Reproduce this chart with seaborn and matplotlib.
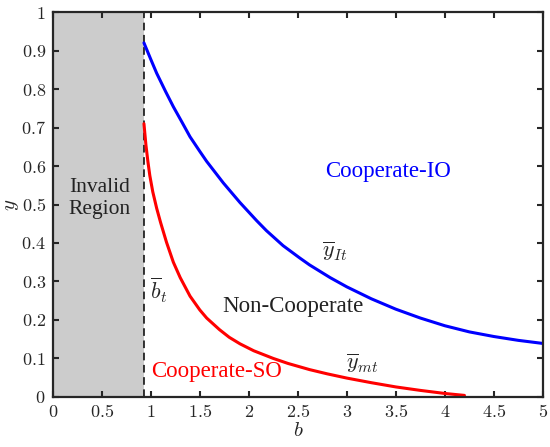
import pandas as pd
import seaborn as sns
import matplotlib.pyplot as plt

# values
b_t = 0.93

b_io = [0.93, 1.0, 1.06, 1.15, 1.23, 1.32, 1.4, 1.5, 1.57, 1.74, 1.91, 2.08, 2.18, 2.35,
        2.52, 2.62, 2.83, 3.0, 3.25, 3.5, 3.75, 4.0, 4.25, 4.5, 4.75, 5.0]
y_io = [0.92, 0.877, 0.841, 0.794, 0.754, 0.713, 0.676, 0.638, 0.612, 0.556, 0.505, 0.458, 0.432, 0.393,
        0.361, 0.343, 0.31, 0.286, 0.255, 0.228, 0.205, 0.185, 0.169, 0.157, 0.147, 0.139]

b_so = [0.93, 0.95, 0.97, 0.99, 1.02, 1.06, 1.1, 1.16, 1.23, 1.3, 1.4, 1.5, 1.57, 1.7,
        1.8, 1.91, 2.05, 2.25, 2.4, 2.62, 2.8, 3.0, 3.25, 3.5, 3.75, 4.0, 4.2]
y_so = [0.71, 0.655, 0.612, 0.575, 0.533, 0.49, 0.453, 0.402, 0.35, 0.31, 0.262, 0.226, 0.205, 0.175,
        0.155, 0.138, 0.12, 0.1, 0.087, 0.071, 0.06, 0.049, 0.037, 0.026, 0.017, 0.009, 0.004]

x_ticks = [0, 0.5, 1, 1.5, 2, 2.5, 3, 3.5, 4, 4.5, 5]
y_ticks = [0, 0.1, 0.2, 0.3, 0.4, 0.5, 0.6, 0.7, 0.8, 0.9, 1]

df_io = pd.DataFrame({'b': b_io, 'y': y_io})
df_so = pd.DataFrame({'b': b_so, 'y': y_so})

sns.set_style('ticks')
plt.rcParams['font.family'] = ['Liberation Serif', 'DejaVu Serif']
plt.rcParams['mathtext.fontset'] = 'cm'

fig = plt.figure(figsize=(5.5, 4.47), dpi=100)
ax = fig.add_axes([0.096, 0.112, 0.891, 0.861])

ax.axvspan(0, b_t, color='#cccccc', lw=0, zorder=0)
ax.axvline(b_t, color='black', ls=(0, (5, 3)), lw=1.1, zorder=1)

sns.lineplot(data=df_io, x='b', y='y', color='#0000ff', lw=2.2, ax=ax)
sns.lineplot(data=df_so, x='b', y='y', color='#ff0000', lw=2.2, ax=ax)

ax.set_xlim(0, 5)
ax.set_ylim(0, 1)
ax.set_xticks(x_ticks)
ax.set_yticks(y_ticks)
ax.set_xticklabels(['$%g$' % v for v in x_ticks])
ax.set_yticklabels(['$%g$' % v for v in y_ticks])
ax.tick_params(direction='in', top=True, right=True, length=4, width=1.5,
               labelsize=13, color='#262626', pad=5)
for s in ax.spines.values():
    s.set_linewidth(1.6)
    s.set_color('#262626')

ax.set_xlabel('$b$', fontsize=15, labelpad=1)
ax.set_ylabel('$y$', fontsize=15, labelpad=0)

ax.text(0.48, 0.515, 'Invalid\nRegion', ha='center', va='center', fontsize=15.5,
        color='#222222', linespacing=1.25)
ax.text(3.42, 0.585, 'Cooperate-IO', ha='center', va='center', fontsize=16.5, color='#0000ff')
ax.text(2.45, 0.235, 'Non-Cooperate', ha='center', va='center', fontsize=16.5, color='#222222')
ax.text(1.0, 0.065, 'Cooperate-SO', ha='left', va='center', fontsize=16.5, color='#ff0000')
ax.text(0.99, 0.278, r'$\overline{b}_t$', ha='left', va='center', fontsize=16)
ax.text(2.88, 0.378, r'$\overline{y}_{It}$', ha='center', va='center', fontsize=16)
ax.text(3.16, 0.086, r'$\overline{y}_{mt}$', ha='center', va='center', fontsize=16)

fig.savefig('out.png', dpi=100)
